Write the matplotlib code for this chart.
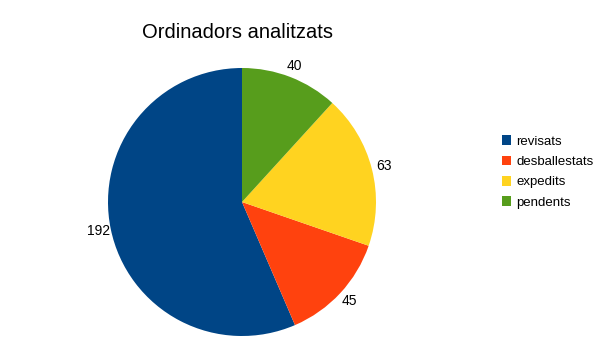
import numpy as np
import matplotlib
matplotlib.use('Agg')
import matplotlib.pyplot as plt
from matplotlib.patches import Patch

plt.rcParams['font.family'] = ['Liberation Sans', 'DejaVu Sans']

# dades
categories = ['revisats', 'desballestats', 'expedits', 'pendents']
values = [192, 45, 63, 40]
colors = ['#004586', '#ff420e', '#ffd320', '#579d1c']
title = 'Ordinadors analitzats'

fig = plt.figure(figsize=(6.09, 3.41), dpi=100)
ax = fig.add_axes([108 / 609, 5 / 341, 268 / 609, 268 / 341])

wedges, texts = ax.pie(values, colors=colors, startangle=90, counterclock=True,
                       labels=[str(v) for v in values], labeldistance=1.09,
                       radius=1, wedgeprops=dict(linewidth=0),
                       textprops=dict(fontsize=10, color='black'))
for t in texts:
    t.set_ha('center')
    t.set_va('center')
ax.set_xlim(-1, 1)
ax.set_ylim(-1, 1)
ax.set_aspect('equal')
ax.axis('off')

fig.text(238 / 609, 1 - 33 / 341, title, ha='center', va='center', fontsize=14.5)

handles = [Patch(facecolor=c, edgecolor='none') for c in colors]
fig.legend(handles, categories, loc='center left', bbox_to_anchor=(495 / 609, 1 - 172 / 341),
           frameon=False, fontsize=9.5, handlelength=0.75, handleheight=0.75,
           handletextpad=0.35, labelspacing=0.6, borderpad=0)

fig.savefig('out.png', dpi=100)
